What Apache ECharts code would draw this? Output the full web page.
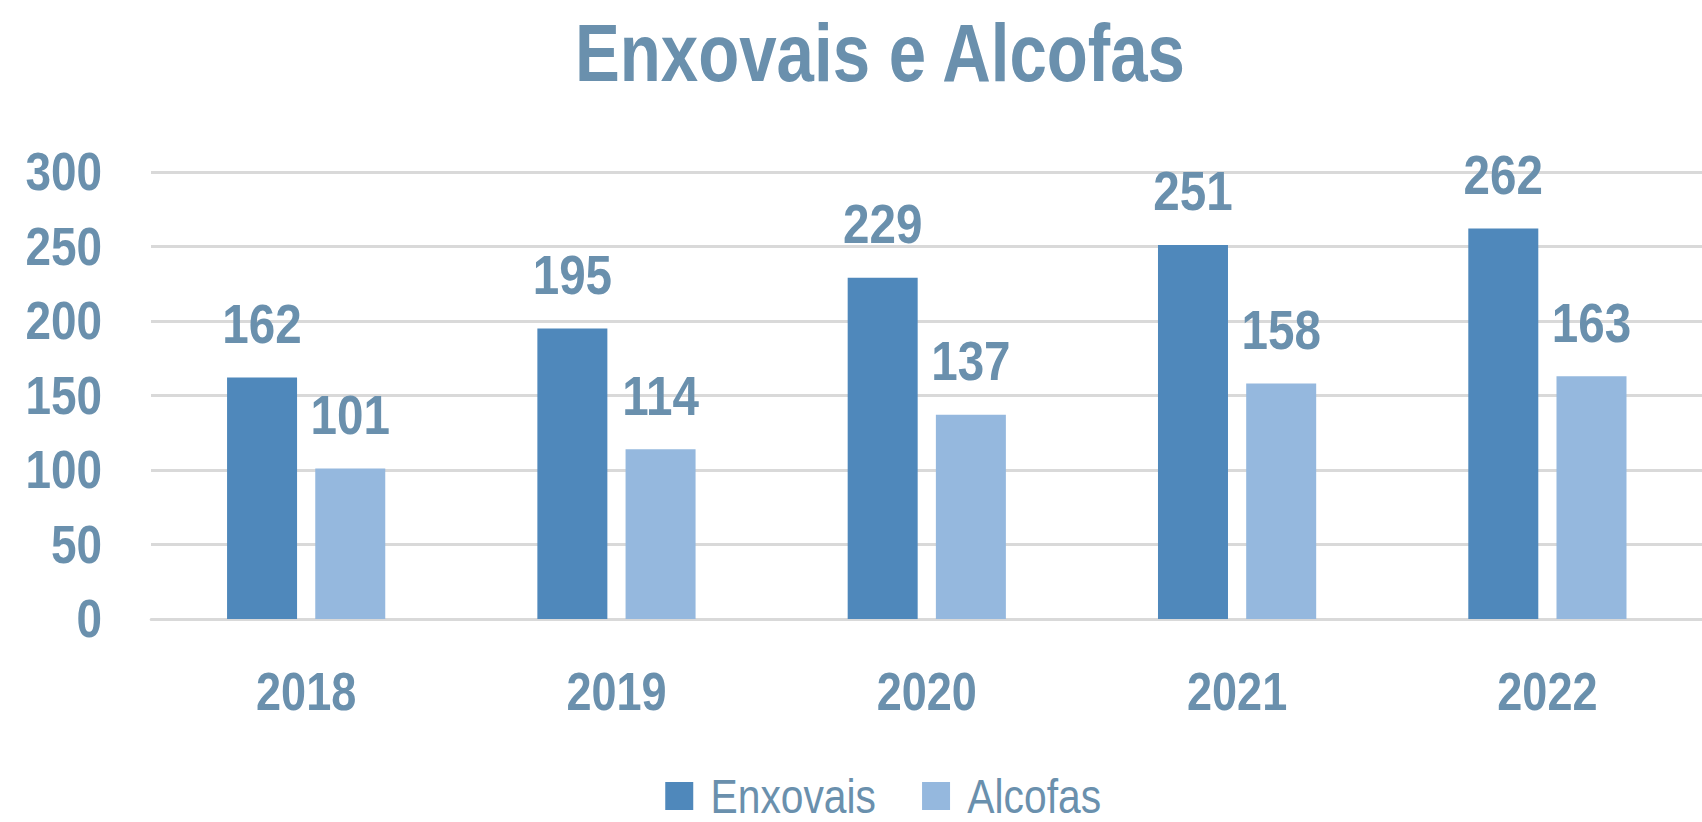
<!DOCTYPE html>
<html>
<head>
<meta charset="utf-8">
<script src="https://cdn.jsdelivr.net/npm/echarts@6/dist/echarts.min.js"></script>
<style>
  html, body { margin: 0; padding: 0; background: #fff; overflow: hidden; }
  /* narrow fonts are not installed, so the whole chart is squeezed horizontally */
  #main { width: 2003px; height: 822px; transform: scaleX(0.85); transform-origin: 0 0; }
</style>
</head>
<body>
<div id="main"></div>
<script>
const years = ['2018', '2019', '2020', '2021', '2022'];
const enxovais = [162, 195, 229, 251, 262];
const alcofas = [101, 114, 137, 158, 163];
const yTicks = [0, 50, 100, 150, 200, 250, 300];

const textColor = '#6A90AD';
const font = '"Liberation Sans", Arial, sans-serif';
const sx = 0.85; // horizontal squeeze applied by css

const chart = echarts.init(document.getElementById('main'), null, { renderer: 'svg' });

const labelStyle = {
    show: true,
    position: 'top',
    distance: 26,
    color: textColor,
    fontFamily: font,
    fontWeight: 'bold',
    fontSize: 56
};

chart.setOption({
    backgroundColor: '#ffffff',
    animation: false,
    graphic: [{
        type: 'text',
        x: 575 / sx,
        y: 13,
        scaleX: 0.83 / sx,
        style: {
            text: 'Enxovais e Alcofas',
            fill: textColor,
            font: 'bold 81px ' + font,
            verticalAlign: 'top'
        }
    }],
    legend: {
        left: 661 / sx,
        top: 767,
        itemWidth: 28 / sx,
        itemHeight: 28,
        itemGap: 46 / sx,
        icon: 'rect',
        textStyle: { color: textColor, fontFamily: font, fontSize: 48, padding: [0, 0, 0, 13 / sx] },
        data: ['Enxovais', 'Alcofas']
    },
    grid: { left: 151 / sx, right: -14 / sx, top: 172, bottom: 203, containLabel: false },
    xAxis: {
        type: 'category',
        data: years,
        axisLine: { show: true, lineStyle: { color: '#D9D9D9', width: 3 } },
        axisTick: { show: false },
        axisLabel: { color: textColor, fontFamily: font, fontWeight: 'bold', fontSize: 53, margin: 46 }
    },
    yAxis: {
        type: 'value',
        min: yTicks[0],
        max: yTicks[yTicks.length - 1],
        interval: 50,
        axisLine: { show: false },
        axisTick: { show: false },
        splitLine: { lineStyle: { color: '#D9D9D9', width: 3 } },
        axisLabel: { color: textColor, fontFamily: font, fontWeight: 'bold', fontSize: 54, margin: 49 / sx }
    },
    series: [
        {
            name: 'Enxovais',
            type: 'bar',
            data: enxovais,
            barWidth: 70 / sx,
            barGap: '26%',
            itemStyle: { color: '#4F88BB' },
            label: labelStyle
        },
        {
            name: 'Alcofas',
            type: 'bar',
            data: alcofas,
            barWidth: 70 / sx,
            itemStyle: { color: '#95B8DE' },
            label: labelStyle
        }
    ]
});

window.addEventListener('resize', () => chart.resize());
</script>
</body>
</html>
